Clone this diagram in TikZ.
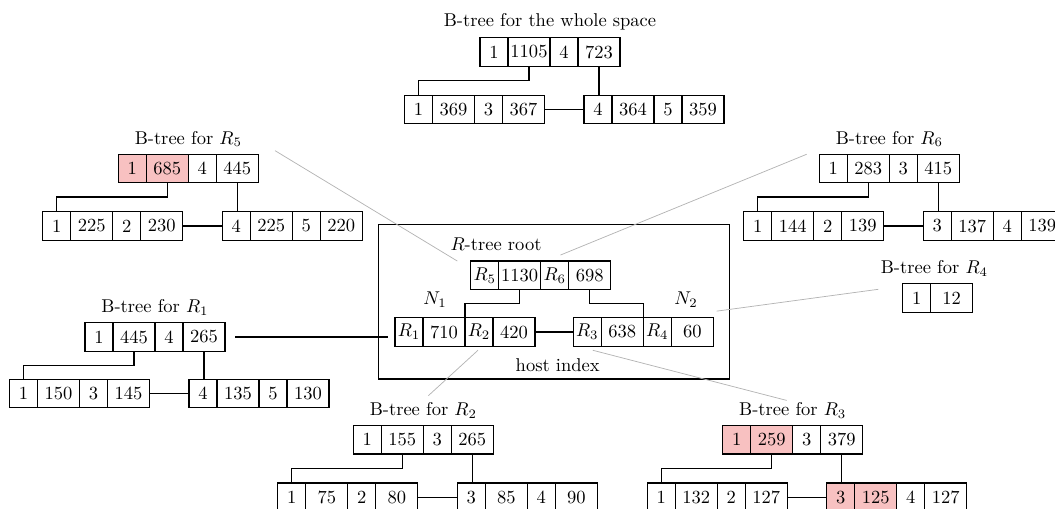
\documentclass[tikz,border=0pt]{standalone}
\usetikzlibrary{positioning, calc}
\definecolor{hitpink}{HTML}{F8C1C1}
\definecolor{guidegrey}{HTML}{B4B4B4}
\tikzset{
  keycell/.style={rectangle, draw, line width=0.6pt, minimum width=15.1pt,
                  minimum height=15.4pt, inner sep=0pt, outer sep=0pt},
  valcell/.style={keycell, minimum width=22.7pt},
  hit/.style={fill=hitpink},
  tie/.style={line width=0.6pt},
  guide/.style={draw=guidegrey, line width=0.4pt},
  lbl/.style={inner sep=3.3pt},
}
% one index entry: key | count | key | count
\newcommand{\recbox}[7][]{%
  \node[keycell, anchor=west, #1] (#2-1) at (#3) {#4};
  \node[valcell, right=0pt of #2-1, #1] (#2-2) {#5};
  \node[keycell, right=0pt of #2-2] (#2-3) {#6};
  \node[valcell, right=0pt of #2-3] (#2-4) {#7};
}
% root to its two leaves, leaves chained
\newcommand{\treelinks}[3]{%
  \draw[tie] (#1-2.south) -- ++(0pt,-7.7pt) -| (#2-1.north);
  \draw[tie] (#1-4.south) -- (#1-4.south |- #3-1.north);
  \draw[tie] (#2-4.east) -- (#3-1.west);
}

\begin{document}
\begin{tikzpicture}[x=0.54pt, y=-0.54pt]
  \useasboundingbox (0,0) rectangle (1055,508);

  % B-tree for the whole space
  \recbox{w}{480,52}{1}{1105}{4}{723}
  \node[lbl, above=0.5pt of w-2.north east] (wt) {B-tree for the whole space};
  \recbox{wl}{$(w-1.west)+(-75.5,57.5)$}{1}{369}{3}{367}
  \recbox{wr}{$(wl-4.east)+(39.5,0)$}{4}{364}{5}{359}
  \treelinks{w}{wl}{wr}

  % R5
  \recbox[hit]{r5}{118.3,168.5}{1}{685}{4}{445}
  \node[lbl, above=0.5pt of r5-2.north east] (r5t) {B-tree for $R_5$};
  \recbox{r5l}{$(r5-1.west)+(-75.5,57.5)$}{1}{225}{2}{230}
  \recbox{r5r}{$(r5l-4.east)+(39.5,0)$}{4}{225}{5}{220}
  \treelinks{r5}{r5l}{r5r}

  % R6
  \recbox{r6}{819.3,168.5}{1}{283}{3}{415}
  \node[lbl, above=0.5pt of r6-2.north east] (r6t) {B-tree for $R_6$};
  \recbox{r6l}{$(r6-1.west)+(-75.5,57.5)$}{1}{144}{2}{139}
  \recbox{r6r}{$(r6l-4.east)+(39.5,0)$}{3}{137}{4}{139}
  \treelinks{r6}{r6l}{r6r}

  % R1
  \recbox{r1}{85,337}{1}{445}{4}{265}
  \node[lbl, above=0.5pt of r1-2.north east] (r1t) {B-tree for $R_1$};
  \recbox{r1l}{$(r1-1.west)+(-75.5,56.5)$}{1}{150}{3}{145}
  \recbox{r1r}{$(r1l-4.east)+(39.5,0)$}{4}{135}{5}{130}
  \treelinks{r1}{r1l}{r1r}

  % R2
  \recbox{r2}{353.3,439.7}{1}{155}{3}{265}
  \node[lbl, above=0.5pt of r2-2.north east] (r2t) {B-tree for $R_2$};
  \recbox{r2l}{$(r2-1.west)+(-75.5,57.5)$}{1}{75}{2}{80}
  \recbox{r2r}{$(r2l-4.east)+(39.5,0)$}{3}{85}{4}{90}
  \treelinks{r2}{r2l}{r2r}

  % R3
  \recbox[hit]{r3}{722.7,439.7}{1}{259}{3}{379}
  \node[lbl, above=0.5pt of r3-2.north east] (r3t) {B-tree for $R_3$};
  \recbox{r3l}{$(r3-1.west)+(-75.5,57.5)$}{1}{132}{2}{127}
  \recbox[hit]{r3r}{$(r3l-4.east)+(39.5,0)$}{3}{125}{4}{127}
  \treelinks{r3}{r3l}{r3r}

  % R4 is a single node
  \node[keycell, anchor=west] (r4-1) at (902.7,298) {1};
  \node[valcell, right=0pt of r4-1] (r4-2) {12};
  \node[lbl, above=0.5pt of r4-1.north east, xshift=2pt] (r4t) {B-tree for $R_4$};

  % host R-tree
  \node[draw, line width=0.6pt, minimum width=189.4pt, minimum height=83.5pt] (host) at (553.7,301.7) {};
  \recbox{h}{470.7,275.3}{$R_5$}{1130}{$R_6$}{698}
  \recbox{hl}{$(h-1.west)+(-75.7,56.7)$}{$R_1$}{710}{$R_2$}{420}
  \recbox{hr}{$(hl-4.east)+(38.3,0)$}{$R_3$}{638}{$R_4$}{60}
  \draw[tie] (h-2.south) -- ++(0pt,-7.7pt) -| (hl-2.north east);
  \draw[tie] (h-4.south) -- ++(0pt,-7.7pt) -| (hr-2.north east);
  \draw[tie] (hl-4.east) -- (hr-1.west);
  \node[lbl] (rtl) at (496,244) {$R$-tree root};
  \node[lbl] (n1) at (435,300) {$N_1$};
  \node[lbl] (n2) at (686,300) {$N_2$};
  \node[lbl] (hil) at (557.7,365) {host index};

  % entries to their B-trees
  \draw[tie] ($(r1-4.east)+(10,0)$) -- ($(hl-1.west |- r1-4.east)+(-7,0)$);
  \draw[guide] ($(r5-4.north east)+(16.7,-3.6)$) -- ($(h-1.north west)+(-13.4,0)$);
  \draw[guide] ($(r6-1.north west)+(-12.6,0)$) -- ($(h-3.north)+(5.8,-6)$);
  \draw[guide] ($(r4-1.west)+(-24.4,-8.7)$) -- ($(hr-4.north east)+(3.4,-6.6)$);
  \draw[guide] ($(hl-3.south)+(-1,4)$) -- ($(r2t.north)+(5,0)$);
  \draw[guide] ($(hr-1.south)+(5.5,4)$) -- ($(r3t.north)+(-6,4.7)$);
\end{tikzpicture}
\end{document}
